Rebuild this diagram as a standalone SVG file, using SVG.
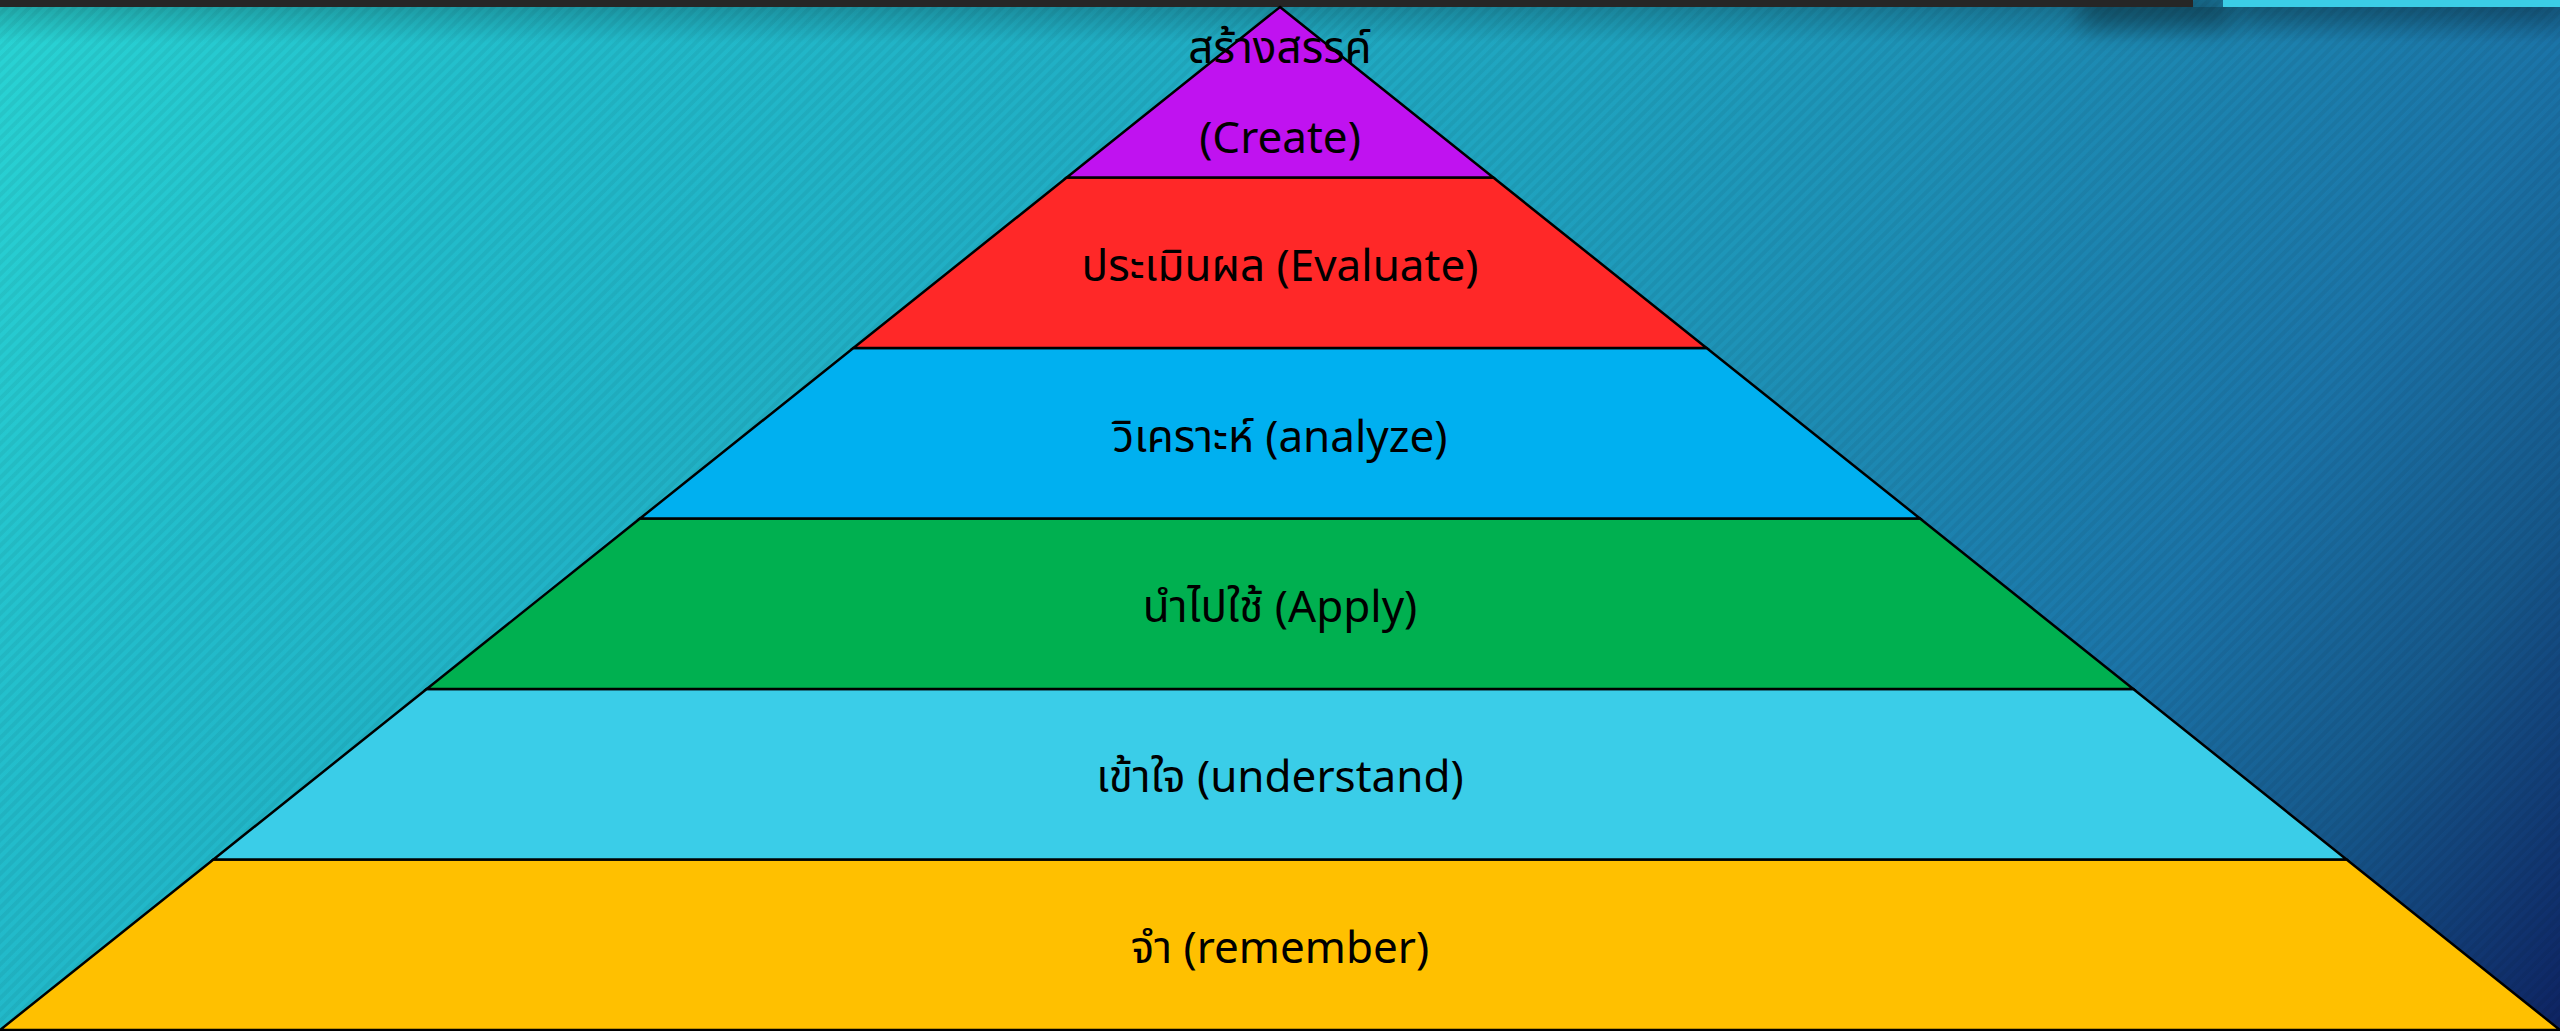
<svg xmlns="http://www.w3.org/2000/svg" width="2560" height="1031" viewBox="0 0 2560 1031">
  <defs>
    <linearGradient id="bg" gradientUnits="userSpaceOnUse" x1="0" y1="0" x2="2300" y2="1600">
      <stop offset="0" stop-color="#29d4d4"/>
      <stop offset="0.17" stop-color="#22bccb"/>
      <stop offset="0.48" stop-color="#1fa3bf"/>
      <stop offset="0.76" stop-color="#1b74a8"/>
      <stop offset="0.85" stop-color="#16598c"/>
      <stop offset="0.96" stop-color="#0e2362"/>
      <stop offset="1" stop-color="#0d1f5c"/>
    </linearGradient>
    <pattern id="stripes" patternUnits="userSpaceOnUse" width="8" height="8" patternTransform="rotate(45)">
      <rect x="0" y="0" width="4" height="8" fill="#000" fill-opacity="0.05"/>
    </pattern>
    <linearGradient id="shadowV" x1="0" y1="0" x2="0" y2="1">
      <stop offset="0" stop-color="#000" stop-opacity="0.2"/>
      <stop offset="1" stop-color="#000" stop-opacity="0"/>
    </linearGradient>
    <filter id="blur" x="-30%" y="-100%" width="160%" height="300%">
      <feGaussianBlur stdDeviation="12"/>
    </filter>
    <style>
      .layer { stroke: #000; stroke-width: 2.5; stroke-linejoin: miter; }
      .lbl { font-family: "Noto Sans Thai", "Noto Sans", "Leelawadee UI", "DejaVu Sans", sans-serif; font-size: 44px; fill: #000; text-anchor: middle; }
    </style>
  </defs>

  <!-- background -->
  <rect x="0" y="0" width="2560" height="1031" fill="url(#bg)"/>
  <rect x="0" y="0" width="2560" height="1031" fill="url(#stripes)"/>
  <rect x="0" y="7" width="2560" height="36" fill="url(#shadowV)"/>
  <rect x="2080" y="-10" width="150" height="40" fill="#000" fill-opacity="0.3" filter="url(#blur)"/>
  <rect x="2240" y="-10" width="320" height="34" fill="#000" fill-opacity="0.18" filter="url(#blur)"/>

  <!-- top bars -->
  <rect x="0" y="0" width="2193" height="7" fill="#262626"/>
  <rect x="2223" y="0" width="337" height="7" fill="#3bcde6"/>

  <!-- pyramid layers -->
  <g id="remember">
    <polygon class="layer" points="213.4,859.5 2346.6,859.5 2560,1030 0,1030" fill="#ffc000"/>
    <text class="lbl" x="1280" y="963">จำ (remember)</text>
  </g>
  <g id="understand">
    <polygon class="layer" points="426.7,689 2133.3,689 2346.6,859.5 213.4,859.5" fill="#3acde8"/>
    <text class="lbl" x="1280" y="792">เข้าใจ (understand)</text>
  </g>
  <g id="apply">
    <polygon class="layer" points="640,518.5 1920,518.5 2133.3,689 426.7,689" fill="#00b050"/>
    <text class="lbl" x="1280" y="622">นำไปใช้ (Apply)</text>
  </g>
  <g id="analyze">
    <polygon class="layer" points="853.4,348 1706.6,348 1920,518.5 640,518.5" fill="#00b0f0"/>
    <text class="lbl" x="1280" y="452">วิเคราะห์ (analyze)</text>
  </g>
  <g id="evaluate">
    <polygon class="layer" points="1066.7,177.5 1493.3,177.5 1706.6,348 853.4,348" fill="#ff2828"/>
    <text class="lbl" x="1280" y="281">ประเมินผล (Evaluate)</text>
  </g>
  <g id="create">
    <polygon class="layer" points="1280,7 1493.3,177.5 1066.7,177.5" fill="#c012f0"/>
    <text class="lbl" x="1280" y="63">สร้างสรรค์</text>
    <text class="lbl" x="1280" y="153">(Create)</text>
  </g>
</svg>
